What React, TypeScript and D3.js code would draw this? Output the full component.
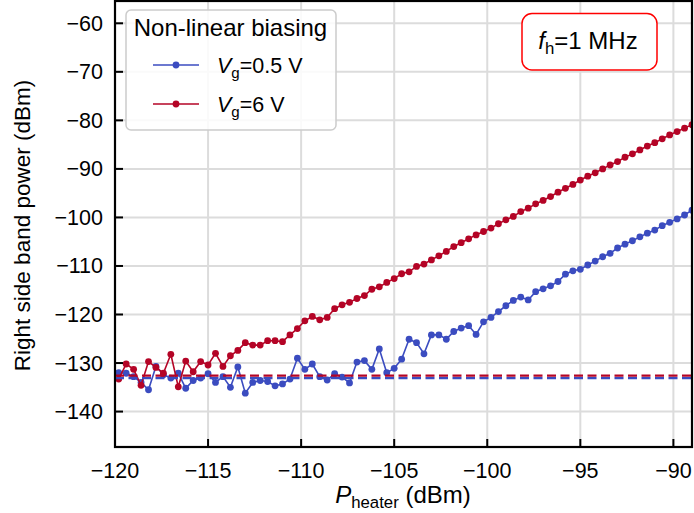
import React from "react";
import * as d3 from "d3";

// Heater power sweep: start, step and number of points (dBm)
const SWEEP_START = -119.8;
const SWEEP_STEP = 0.4;
const SWEEP_COUNT = 78;
const pHeater = d3.range(SWEEP_COUNT).map((i) => +(SWEEP_START + i * SWEEP_STEP).toFixed(2));

// Right side band power for Vg = 0.5 V (dBm)
const powerVg05 = [
  -132.0, -132.1, -132.8, -134.0, -135.5, -130.7, -132.4, -133.1, -132.1, -135.2,
  -133.6, -133.1, -132.2, -134.0, -132.8, -135.0, -130.8, -136.2, -134.0, -133.6,
  -133.8, -134.7, -134.3, -133.3, -129.0, -131.3, -130.2, -132.8, -133.5, -132.2,
  -132.9, -134.1, -129.8, -129.5, -131.3, -127.1, -132.0, -131.1, -129.2, -125.1,
  -125.8, -128.1, -124.2, -124.2, -125.1, -123.5, -122.8, -122.3, -124.1, -121.5,
  -120.6, -119.4, -118.2, -117.1, -116.4, -117.0, -115.3, -114.7, -114.1, -113.2,
  -111.7, -111.0, -110.7, -109.8, -109.0, -108.1, -107.4, -106.3, -105.5, -104.8,
  -104.0, -103.25, -102.6, -101.7, -101.0, -100.3, -99.5, -98.5,
];

// Right side band power for Vg = 6 V (dBm)
const powerVg6 = [
  -133.3, -130.2, -131.3, -134.6, -129.7, -130.9, -132.1, -128.2, -134.9, -129.6,
  -131.8, -129.7, -130.4, -128.0, -130.7, -128.5, -127.4, -125.8, -126.3, -126.3,
  -125.4, -125.4, -125.6, -124.2, -122.9, -121.3, -120.4, -121.1, -120.6, -118.8,
  -118.0, -117.5, -116.7, -116.1, -114.8, -114.3, -113.4, -112.6, -111.6, -111.2,
  -110.1, -109.6, -108.75, -107.9, -107.0, -106.0, -105.2, -104.4, -103.6, -102.9,
  -102.2, -101.3, -100.5, -99.8, -98.8, -98.1, -97.2, -96.5, -95.7, -94.8,
  -94.0, -93.2, -92.3, -91.5, -90.8, -90.0, -89.2, -88.5, -87.6, -86.9,
  -86.1, -85.3, -84.6, -83.8, -83.0, -82.3, -81.6, -80.9,
];

// Noise floor levels (dBm)
const floorVg05 = -133.1;
const floorVg6 = -132.6;

const xTicks = [-120, -115, -110, -105, -100, -95, -90];
const yTicks = [-140, -130, -120, -110, -100, -90, -80, -70, -60];

const BLUE = "#3b4cc0";
const RED = "#b40426";
const FONT = "'Liberation Sans', Arial, Helvetica, sans-serif";
const FS_TICK = 21.5;
const FS_LABEL = 24;
const FS_YLABEL = 22.5;

const W = 694;
const H = 513;
const left = 115;
const right = 692;
const top = 0;
const bottom = 447;

const fmt = (v: number) => (v < 0 ? "\u2212" + Math.abs(v) : String(v));

export default function App() {
  const x = d3.scaleLinear().domain([-120, -89]).range([left, right]);
  const y = d3.scaleLinear().domain([-147.3, -55.2]).range([bottom, top]);

  const line = d3
    .line<number>()
    .x((_, i) => x(pHeater[i]))
    .y((d) => y(d));

  const series = [
    { values: powerVg05, color: BLUE, floor: floorVg05 },
    { values: powerVg6, color: RED, floor: floorVg6 },
  ];

  return (
    <svg
      width={W}
      height={H}
      style={{ position: "absolute", left: 0, top: 0, background: "#fff" }}
      fontFamily={FONT}
    >
      <defs>
        <clipPath id="plotArea">
          <rect x={left} y={top} width={right - left} height={bottom - top} />
        </clipPath>
      </defs>
      <rect x={0} y={0} width={W} height={H} fill="#fff" />

      {/* grid */}
      <g stroke="#dcdcdc" strokeWidth={2}>
        {xTicks.map((t) => (
          <line key={"gx" + t} x1={x(t)} x2={x(t)} y1={top} y2={bottom} />
        ))}
        {yTicks.map((t) => (
          <line key={"gy" + t} x1={left} x2={right} y1={y(t)} y2={y(t)} />
        ))}
      </g>

      {/* data */}
      <g clipPath="url(#plotArea)">
        {series.map((s, si) => (
          <g key={"s" + si}>
            <path d={line(s.values) ?? ""} fill="none" stroke={s.color} strokeWidth={1.6} />
            {s.values.map((v, i) => (
              <circle key={i} cx={x(pHeater[i])} cy={y(v)} r={3.4} fill={s.color} />
            ))}
          </g>
        ))}
        {series.map((s, si) => (
          <line
            key={"f" + si}
            x1={left}
            x2={right}
            y1={y(s.floor)}
            y2={y(s.floor)}
            stroke={s.color}
            strokeWidth={2.2}
            strokeDasharray="9 4.5"
          />
        ))}
      </g>

      {/* ticks */}
      <g stroke="#000" strokeWidth={2}>
        {xTicks.map((t) => (
          <line key={"tx" + t} x1={x(t)} x2={x(t)} y1={bottom} y2={bottom - 8} />
        ))}
        {yTicks.map((t) => (
          <line key={"ty" + t} x1={left} x2={left + 8} y1={y(t)} y2={y(t)} />
        ))}
      </g>

      {/* frame */}
      <rect
        x={left}
        y={top + 1}
        width={right - left}
        height={bottom - top - 1}
        fill="none"
        stroke="#000"
        strokeWidth={2.2}
      />

      {/* tick labels */}
      <g fontSize={FS_TICK} fill="#000">
        {xTicks.map((t) => (
          <text key={"lx" + t} x={x(t)} y={bottom + 31} textAnchor="middle">
            {fmt(t)}
          </text>
        ))}
        {yTicks.map((t) => (
          <text key={"ly" + t} x={left - 12} y={y(t) + 7.5} textAnchor="end">
            {fmt(t)}
          </text>
        ))}
      </g>

      {/* axis titles */}
      <text x={403} y={503} textAnchor="middle" fontSize={FS_LABEL}>
        <tspan fontStyle="italic">P</tspan>
        <tspan fontSize={FS_LABEL * 0.7} dy={5}>heater</tspan>
        <tspan dy={-5}> (dBm)</tspan>
      </text>
      <text
        transform={`translate(30, ${(top + bottom) / 2 + 2}) rotate(-90)`}
        textAnchor="middle"
        fontSize={FS_YLABEL}
      >
        Right side band power (dBm)
      </text>

      {/* legend */}
      <g>
        <rect
          x={126}
          y={10}
          width={210}
          height={120}
          rx={5}
          fill="#fff"
          fillOpacity={0.85}
          stroke="#cccccc"
          strokeWidth={1.5}
        />
        <text x={230.5} y={36} textAnchor="middle" fontSize={FS_LABEL}>
          Non-linear biasing
        </text>
        {[
          { color: BLUE, label: "0.5 V", yy: 65 },
          { color: RED, label: "6 V", yy: 104 },
        ].map((e) => (
          <g key={e.label}>
            <line x1={153} x2={199} y1={e.yy} y2={e.yy} stroke={e.color} strokeWidth={1.6} />
            <circle cx={176} cy={e.yy} r={3.4} fill={e.color} />
            <text x={217} y={e.yy + 7.5} fontSize={FS_TICK}>
              <tspan fontStyle="italic">V</tspan>
              <tspan fontSize={FS_TICK * 0.7} dy={5}>g</tspan>
              <tspan dy={-5}>={e.label}</tspan>
            </text>
          </g>
        ))}
      </g>

      {/* annotation */}
      <g>
        <rect
          x={522}
          y={13.5}
          width={135}
          height={56.5}
          rx={10}
          fill="#fff"
          stroke="#ff0000"
          strokeWidth={1.5}
        />
        <text x={588} y={49} textAnchor="middle" fontSize={FS_LABEL}>
          <tspan fontStyle="italic">f</tspan>
          <tspan fontSize={FS_LABEL * 0.7} dy={5}>h</tspan>
          <tspan dy={-5}>=1 MHz</tspan>
        </text>
      </g>
    </svg>
  );
}
